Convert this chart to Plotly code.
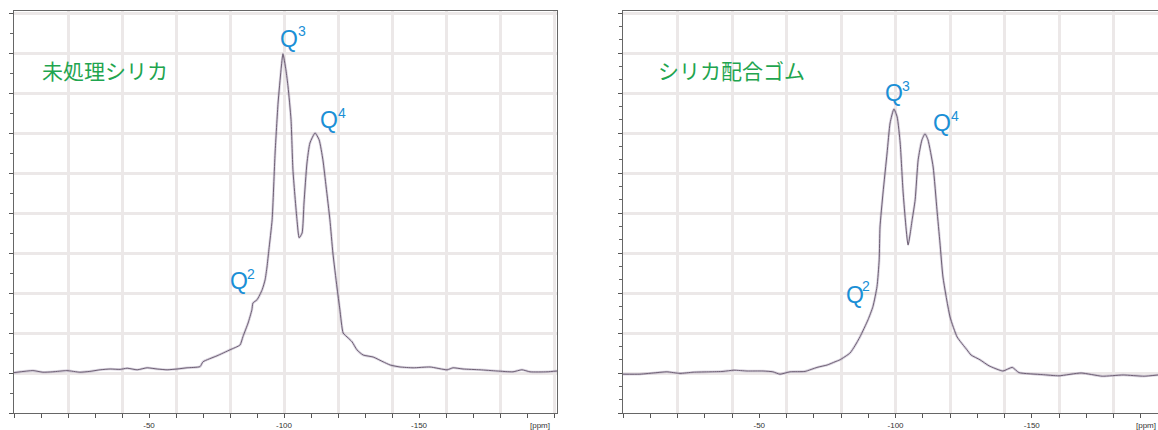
import plotly.graph_objects as go

# 29Si NMR spectra: chemical shift [ppm] and relative intensity
ppm_untreated = [0.0, -7.0, -10.7, -14.4, -19.6, -24.4, -28.1, -31.9, -35.6, -39.3,
                 -41.9, -45.6, -49.3, -53.0, -56.7, -60.4, -64.1, -68.9, -70.0, -75.2,
                 -80.0, -83.7, -84.8, -86.7, -88.1, -88.5, -90.0, -91.9, -93.0, -93.7,
                 -94.4, -95.6, -96.7, -97.8, -98.9, -99.6, -100.7, -101.5, -102.6, -103.3,
                 -104.8, -105.6, -106.7, -107.4, -108.5, -109.6, -111.5, -113.0, -114.4, -115.6,
                 -117.0, -118.1, -119.6, -120.7, -121.9, -123.7, -125.2, -127.0, -129.3, -133.0,
                 -136.7, -139.3, -143.0, -147.8, -154.1, -160.4, -162.6, -166.3, -172.6, -178.9,
                 -184.8, -188.1, -191.1, -197.4, -201.1]
int_untreated = [0.01, 0.06, 0.02, 0.03, 0.06, 0.02, 0.04, 0.08, 0.10, 0.09,
                 0.12, 0.08, 0.13, 0.10, 0.08, 0.10, 0.13, 0.16, 0.28, 0.43,
                 0.58, 0.70, 0.91, 1.25, 1.58, 1.75, 1.83, 2.08, 2.33, 2.65,
                 3.08, 3.83, 5.50, 6.75, 7.58, 7.98, 7.58, 7.15, 6.33, 5.08,
                 3.83, 3.38, 3.50, 4.25, 5.25, 5.75, 6.00, 5.83, 5.33, 4.65,
                 3.83, 3.00, 2.15, 1.58, 1.00, 0.88, 0.78, 0.58, 0.45, 0.40,
                 0.28, 0.20, 0.15, 0.13, 0.15, 0.08, 0.13, 0.10, 0.08, 0.05,
                 0.03, 0.08, 0.03, 0.03, 0.05]

ppm_rubber = [0.0, -6.2, -12.5, -16.1, -20.9, -25.7, -31.9, -36.7, -40.7, -45.5,
              -51.4, -55.0, -57.6, -61.3, -66.8, -71.2, -74.9, -77.8, -79.6, -83.3,
              -85.1, -87.0, -89.9, -91.7, -93.2, -94.0, -94.3, -95.4, -96.9, -98.0,
              -99.4, -100.6, -101.7, -102.8, -104.6, -106.1, -107.2, -108.3, -109.7, -110.8,
              -111.9, -113.8, -115.2, -116.3, -117.4, -120.0, -122.6, -126.2, -127.7, -131.0,
              -134.3, -139.4, -142.8, -145.3, -153.8, -160.0, -168.1, -175.8, -183.5, -191.2,
              -196.3]
int_rubber = [-0.03, -0.03, 0.01, 0.03, -0.01, 0.02, 0.03, 0.04, 0.07, 0.05,
              0.05, 0.03, -0.03, 0.03, 0.04, 0.14, 0.20, 0.28, 0.33, 0.50,
              0.68, 0.91, 1.33, 1.66, 2.16, 2.83, 3.65, 4.50, 5.50, 6.25,
              6.60, 6.40, 5.75, 4.50, 3.20, 3.83, 4.33, 5.33, 5.83, 5.98,
              5.83, 5.15, 4.08, 3.25, 2.40, 1.40, 0.90, 0.58, 0.45, 0.33,
              0.18, 0.05, 0.14, 0.01, -0.04, -0.07, 0.00, -0.08, -0.05, -0.08,
              -0.05]

tick_vals = [-50, -100, -150]
tick_text = ["-50", "-100", "-150"]

# Peak labels: (superscript, Q position [ppm, intensity], superscript position [ppm, intensity])
labels_untreated = [("3", (-102.0, 8.36), (-106.7, 8.55)),
                    ("4", (-116.5, 6.33), (-121.3, 6.51)),
                    ("2", (-83.5, 2.29), (-87.6, 2.48))]
labels_rubber = [("3", (-99.3, 6.99), (-103.7, 7.18)),
                 ("4", (-117.2, 6.24), (-121.8, 6.43)),
                 ("2", (-85.0, 1.96), (-89.2, 2.18))]

W, H = 1158, 430
CORE = "#6e6074"
HALO = "rgba(150,132,165,0.35)"
GRID = "#ece8e8"
AXIS = "#666666"
BLUE = "#1a8fd6"
GREEN = "#1fa54f"

fig = go.Figure()
# soft halo on the grid axes, thin core on the tick axes
for xs, ys, xa_halo, xa_core, ya in ((ppm_untreated, int_untreated, "x", "x3", "y"),
                                     (ppm_rubber, int_rubber, "x2", "x4", "y2")):
    fig.add_trace(go.Scatter(x=xs, y=ys, xaxis=xa_halo, yaxis=ya, mode="lines",
                             line=dict(color=HALO, width=2.6, shape="spline", smoothing=0.5),
                             hoverinfo="skip"))
    fig.add_trace(go.Scatter(x=xs, y=ys, xaxis=xa_core, yaxis=ya, mode="lines",
                             line=dict(color=CORE, width=1.0, shape="spline", smoothing=0.5),
                             hoverinfo="skip"))

y_dom = [17 / H, 419 / H]
y_range = [-1, 9.05]
range_l = [0, -201.1]
range_r = [0, -196.3]


def grid_xaxis(domain, rng, anchor):
    return dict(domain=domain, range=rng, anchor=anchor, tickmode="linear", tick0=0, dtick=20,
                showgrid=True, gridcolor=GRID, gridwidth=3, ticks="", showticklabels=False,
                showline=True, linecolor=AXIS, linewidth=1, mirror=True, zeroline=False,
                fixedrange=True)


def tick_xaxis(over, rng, anchor):
    return dict(overlaying=over, range=rng, anchor=anchor, side="bottom", tickmode="array",
                tickvals=tick_vals, ticktext=tick_text, ticks="outside", ticklen=4,
                tickcolor="#555555", tickwidth=1,
                minor=dict(tickmode="linear", tick0=0, dtick=10, ticks="outside",
                           ticklen=4, tickcolor="#555555", showgrid=False),
                showgrid=False, showline=False, zeroline=False,
                tickfont=dict(family="Liberation Sans", size=8, color="#333333"),
                fixedrange=True)


def yaxis(anchor, minor_step, mirror):
    return dict(domain=y_dom, range=y_range, anchor=anchor, tickmode="linear", tick0=0, dtick=1,
                showgrid=True, gridcolor=GRID, gridwidth=3, ticks="outside", ticklen=4,
                tickcolor="#555555", showticklabels=False,
                minor=dict(tickmode="linear", tick0=0, dtick=minor_step, ticks="outside",
                           ticklen=3, tickcolor="#666666", showgrid=False),
                showline=True, linecolor=AXIS, linewidth=1, mirror=mirror, zeroline=False,
                fixedrange=True)


fig.update_layout(
    width=W, height=H, autosize=False,
    margin=dict(l=0, r=0, t=0, b=0),
    paper_bgcolor="white", plot_bgcolor="white",
    showlegend=False,
    xaxis=grid_xaxis([14 / W, 557 / W], range_l, "y"),
    xaxis2=grid_xaxis([623 / W, 1.0], range_r, "y2"),
    xaxis3=tick_xaxis("x", range_l, "y"),
    xaxis4=tick_xaxis("x2", range_r, "y2"),
    yaxis=yaxis("x", 0.5, True),
    yaxis2=yaxis("x2", 1 / 3, False),
)

annotations = []
for xref, yref, labels in (("x", "y", labels_untreated), ("x2", "y2", labels_rubber)):
    for digit, (qx, qy), (sx, sy) in labels:
        annotations.append(dict(text="Q", x=qx, y=qy, xref=xref, yref=yref, showarrow=False,
                                xanchor="center", yanchor="middle",
                                font=dict(family="Liberation Sans", size=23, color=BLUE)))
        annotations.append(dict(text=digit, x=sx, y=sy, xref=xref, yref=yref, showarrow=False,
                                xanchor="center", yanchor="middle",
                                font=dict(family="Liberation Sans", size=14, color=BLUE)))

annotations.append(dict(text="未処理シリカ", x=40 / W, y=1 - 70 / H, xref="paper", yref="paper",
                        showarrow=False, xanchor="left", yanchor="middle",
                        font=dict(family="Noto Sans CJK JP", size=21, color=GREEN)))
annotations.append(dict(text="シリカ配合ゴム", x=656 / W, y=1 - 70 / H, xref="paper", yref="paper",
                        showarrow=False, xanchor="left", yanchor="middle",
                        font=dict(family="Noto Sans CJK JP", size=21, color=GREEN)))

for xref, xv in (("x", -194.8), ("x2", -191.8)):
    annotations.append(dict(text="[ppm]", x=xv, y=1 - 425 / H, xref=xref, yref="paper",
                            showarrow=False, xanchor="center", yanchor="middle",
                            font=dict(family="Liberation Sans", size=8, color="#333333")))

fig.update_layout(annotations=annotations)
fig.write_html("out.html")
